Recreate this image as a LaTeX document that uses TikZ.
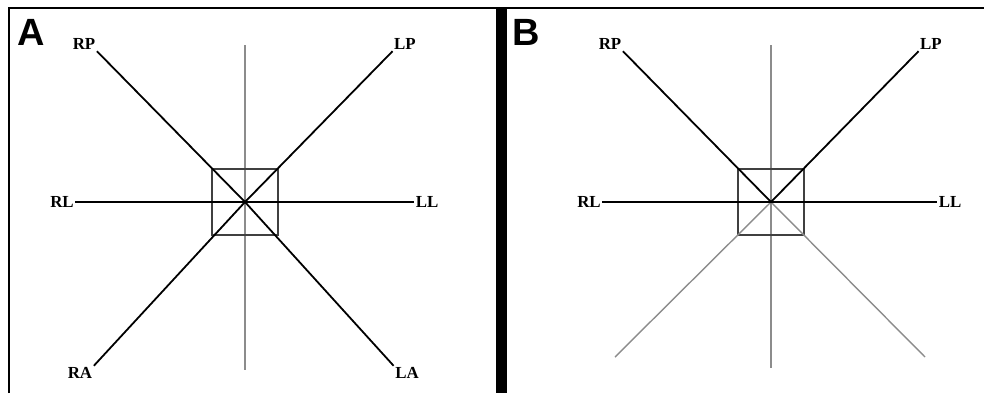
\documentclass[tikz,border=0pt]{standalone}
\usepackage{fontspec}
\setmainfont{Liberation Serif}
\newfontfamily\panelfont{Liberation Sans}
\usetikzlibrary{positioning}
\tikzset{
    eje/.style={draw=black, line width=0.45mm},
    guia/.style={draw=black!45, line width=0.35mm},
    caja/.style={draw=black!75, line width=0.35mm},
    etiqueta/.style={inner sep=1pt, font=\fontsize{12}{13}\selectfont\bfseries},
    letra/.style={inner sep=0pt, font=\panelfont\fontsize{27}{27}\selectfont\bfseries},
    marco/.style={draw=black, line width=0.5mm}
}
\begin{document}
\begin{tikzpicture}[x=0.25mm, y=-0.25mm]
    \useasboundingbox (0,0) rectangle (984,393);

    % Marco general
    \coordinate (m_izq) at (9,393);
    \coordinate (m_sup) at (9,8);
    \coordinate (m_der) at (984,8);
    \draw[marco] (m_izq) -- (m_sup) -- (m_der);
    \fill[black] (496,8) rectangle (507,393);

    % --- PANEL A ---
    \node[letra] (tA) at (31,32) {A};
    \coordinate (cA) at (245,202);

    \node[etiqueta] (rpA) at (84,44) {RP};
    \node[etiqueta] (lpA) at (405,44) {LP};
    \node[etiqueta] (rlA) at (62,202) {RL};
    \node[etiqueta] (llA) at (427,202) {LL};
    \node[etiqueta] (raA) at (80,373) {RA};
    \node[etiqueta] (laA) at (407,373) {LA};

    % Eje vertical (gris)
    \coordinate (supA) at (245,45);
    \coordinate (infA) at (245,370);
    \draw[guia] (supA) -- (infA);

    % Cuadro central
    \draw[caja] ([shift={(-33,-33)}]cA) rectangle ([shift={(33,33)}]cA);

    % Ejes negros
    \draw[eje] (rlA.east) -- (llA.west);
    \draw[eje] (rpA.south east) -- (cA) -- (laA.north west);
    \draw[eje] (lpA.south west) -- (cA) -- (raA.north east);

    % --- PANEL B ---
    \node[letra] (tB) at (526,32) {B};
    \coordinate (cB) at (771,202);

    \node[etiqueta] (rpB) at (610,44) {RP};
    \node[etiqueta] (lpB) at (931,44) {LP};
    \node[etiqueta] (rlB) at (589,202) {RL};
    \node[etiqueta] (llB) at (950,202) {LL};

    % Eje vertical (gris)
    \coordinate (supB) at (771,45);
    \coordinate (infB) at (771,368);
    \draw[guia] (supB) -- (infB);

    % Cuadro central
    \draw[caja] ([shift={(-33,-33)}]cB) rectangle ([shift={(33,33)}]cB);

    % Diagonales inferiores en gris
    \coordinate (raB) at (615,357);
    \coordinate (laB) at (925,357);
    \draw[guia] (raB) -- (cB) -- (laB);

    % Ejes negros
    \draw[eje] (rlB.east) -- (llB.west);
    \draw[eje] (rpB.south east) -- (cB) -- (lpB.south west);
\end{tikzpicture}
\end{document}
